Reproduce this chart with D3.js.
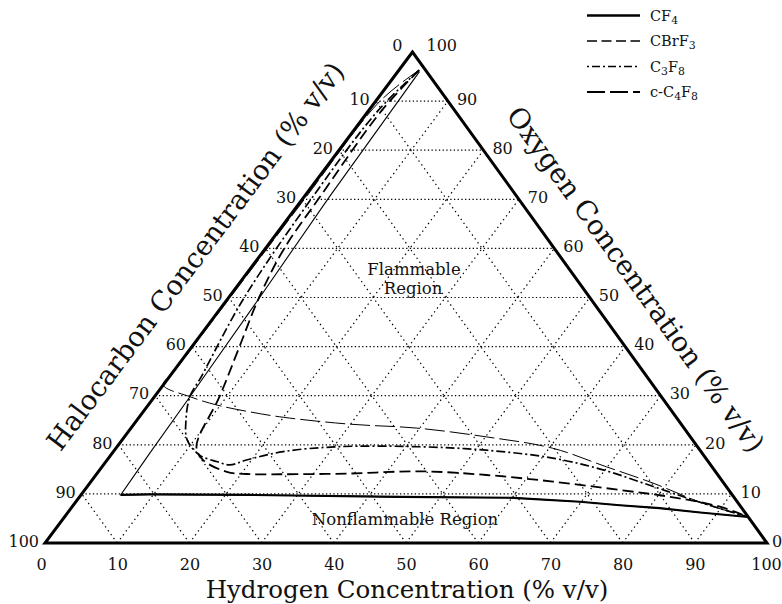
<!DOCTYPE html>
<html lang="en">
<head>
<meta charset="UTF-8">
<title>Hydrogen / oxygen / halocarbon flammability diagram</title>
<script src="https://cdnjs.cloudflare.com/ajax/libs/d3/7.8.5/d3.min.js"></script>
<style>
  body { margin: 0; background: #fff; }
  svg { display: block; font-family: 'DejaVu Serif', serif; }
</style>
</head>
<body>
<svg id="chart" width="782" height="604"></svg>
<script>
// tick values shared by the three sides
const ticks = [0, 10, 20, 30, 40, 50, 60, 70, 80, 90, 100];
const gridLevels = [10, 20, 30, 40, 50, 60, 70, 80, 90];

// flammability boundaries, points as [hydrogen %, oxygen %]; halocarbon = 100 - H - O
const cf4 = [[3.0, 96.0], [3.5, 70.5], [4.3, 49.5], [4.9, 30.0], [5.2, 18.3], [5.5, 9.8],
  [9.5, 9.9], [23.4, 9.8], [44.4, 9.4], [60.2, 9.2], [69.8, 8.4], [75.7, 7.7],
  [81.5, 7.1], [87.6, 6.2], [94.7, 5.3]];
const cbrf3 = [[2.8, 96.3], [1.8, 88.0], [2.2, 70.5], [2.6, 60.0], [4.2, 50.0], [6.7, 39.5],
  [9.0, 29.8], [11.0, 19.6], [13.3, 16.9], [17.8, 14.5], [20.8, 14.05], [25.4, 14.0],
  [35.0, 14.15], [44.5, 14.6], [54.1, 13.85], [64.0, 12.5], [74.1, 10.8], [81.8, 9.4],
  [89.7, 7.4], [94.7, 5.3]];
const c3f8 = [[2.8, 96.3], [1.3, 88.0], [1.2, 70.5], [2.2, 49.5], [4.4, 33.9], [4.9, 29.8],
  [6.8, 25.0], [9.0, 21.0], [12.3, 17.9], [15.3, 16.6], [17.5, 15.9], [19.3, 16.9],
  [23.5, 18.6], [30.4, 19.6], [41.9, 19.6], [51.5, 18.9], [61.5, 17.3], [69.7, 14.9],
  [78.4, 11.5], [87.0, 8.1], [94.7, 5.3]];
const cc4f8 = [[2.8, 96.3], [0.6, 90.0], [0.3, 70.0], [0.2, 50.0], [0.1, 35.0], [0.0, 32.2],
  [4.9, 29.8], [9.5, 28.1], [14.8, 26.7], [20.0, 25.6], [29.9, 24.2], [39.6, 23.4],
  [50.2, 21.6], [60.5, 19.3], [69.9, 15.5], [78.0, 12.2], [87.0, 8.1], [94.7, 5.3]];

const seriesNames = ["CF4", "CBrF3", "C3F8", "c-C4F8"];

const svg = d3.select("#chart");

// triangle corners: apex = 100 % oxygen, lower left = 100 % halocarbon, lower right = 100 % hydrogen
const apex = [412.5, 52], lowLeft = [45, 543], lowRight = [767, 543];

const yO = d3.scaleLinear().domain([0, 100]).range([lowLeft[1], apex[1]]);
const xLeftEdge = d3.scaleLinear().domain([0, 100]).range([lowLeft[0], apex[0]]);
const xRightEdge = d3.scaleLinear().domain([0, 100]).range([lowRight[0], apex[0]]);
const hSpan = d3.scaleLinear().domain([0, 100]).range([0, lowRight[0] - lowLeft[0]]);
const hAxis = d3.scaleLinear().domain([0, 100]).range([lowLeft[0], lowRight[0]]);

const px = (h, o) => xLeftEdge(o) + hSpan(h);
const py = (h, o) => yO(o);

// dotted grid
const grid = svg.append("g").attr("fill", "none").attr("stroke", "#000");
const gridSegs = [];
gridLevels.forEach(v => {
  gridSegs.push({ kind: "h", a: [0, v], b: [100 - v, v] });          // constant oxygen
  gridSegs.push({ kind: "d", a: [v, 0], b: [v, 100 - v] });          // constant hydrogen
  gridSegs.push({ kind: "d", a: [100 - v, 0], b: [0, 100 - v] });    // constant halocarbon
});
grid.selectAll("line").data(gridSegs).join("line")
  .attr("x1", d => px(...d.a)).attr("y1", d => py(...d.a))
  .attr("x2", d => px(...d.b)).attr("y2", d => py(...d.b))
  .attr("stroke-width", 1.2)
  .attr("stroke-dasharray", d => d.kind === "h" ? "1.3,2.4" : "1.4,3.4");

// boundary curves
const smooth = d3.line().x(d => px(d[0], d[1])).y(d => py(d[0], d[1]))
  .curve(d3.curveCatmullRom.alpha(0.5));
const straight = d3.line().x(d => px(d[0], d[1])).y(d => py(d[0], d[1]));

const curves = svg.append("g").attr("fill", "none").attr("stroke", "#000");
curves.append("path").attr("d", straight(cf4)).attr("stroke-width", 1.1);
curves.append("path").attr("d", straight(cf4.slice(5))).attr("stroke-width", 2.1);
curves.append("path").attr("d", smooth(cbrf3)).attr("stroke-width", 1.8).attr("stroke-dasharray", "11,5");
curves.append("path").attr("d", smooth(c3f8)).attr("stroke-width", 1.7).attr("stroke-dasharray", "9,3,2,3");
curves.append("path").attr("d", smooth(cc4f8)).attr("stroke-width", 1).attr("stroke-dasharray", "20,5");

// triangle outline
svg.append("polygon")
  .attr("points", [apex, lowLeft, lowRight].map(p => p.join(",")).join(" "))
  .attr("fill", "none").attr("stroke", "#000").attr("stroke-width", 3)
  .attr("stroke-linejoin", "miter");

// bottom axis: hydrogen
svg.append("g")
  .attr("transform", `translate(0,${lowLeft[1]})`)
  .call(d3.axisBottom(hAxis).tickValues(ticks).tickSize(0).tickPadding(16).tickFormat(d3.format("d")))
  .call(g => g.select(".domain").remove())
  .attr("font-family", "'DejaVu Serif', serif")
  .attr("font-size", 16)
  .call(g => g.selectAll("text").attr("fill", "#111")
    .attr("dx", d => d === 0 ? -4 : d === 100 ? -1 : 0));

// left side: halocarbon (0 at apex, 100 at lower left)
svg.append("g").attr("font-size", 16).attr("fill", "#111").attr("text-anchor", "end")
  .selectAll("text").data(ticks).join("text")
  .attr("x", c => xLeftEdge(100 - c) - (c === 0 ? 10 : 6))
  .attr("y", c => yO(100 - c) - (c === 0 ? 7 : 2))
  .attr("dy", "0.36em")
  .text(c => c);

// right side: oxygen (100 at apex, 0 at lower right)
svg.append("g").attr("font-size", 16).attr("fill", "#111")
  .selectAll("text").data(ticks).join("text")
  .attr("x", o => xRightEdge(o) + (o === 100 ? 14 : o === 0 ? 5 : 9))
  .attr("y", o => yO(o) - (o === 100 ? 7 : 2))
  .attr("dy", "0.36em")
  .text(o => o);

// axis titles
svg.append("text").attr("x", 407).attr("y", 597.5).attr("text-anchor", "middle")
  .attr("font-size", 24.5).attr("fill", "#111")
  .text("Hydrogen Concentration (% v/v)");
svg.append("text").attr("text-anchor", "middle")
  .attr("transform", "translate(203,262) rotate(-53.2)")
  .attr("font-size", 27.5).attr("fill", "#111")
  .text("Halocarbon Concentration (% v/v)");
svg.append("text").attr("text-anchor", "middle")
  .attr("transform", "translate(628,285) rotate(54.2)")
  .attr("font-size", 27.5).attr("fill", "#111")
  .text("Oxygen Concentration (% v/v)");

// region labels
const regions = svg.append("g").attr("font-size", 16.5).attr("fill", "#111").attr("text-anchor", "middle");
regions.append("text").attr("x", 414).attr("y", 275).text("Flammable");
regions.append("text").attr("x", 413).attr("y", 294).text("Region");
regions.append("text").attr("x", 405).attr("y", 525).text("Nonflammable Region");

// legend
const legendStyles = [
  { w: 2.6, dash: null },
  { w: 1.5, dash: "10,4.5" },
  { w: 1.5, dash: "2,3,8,3" },
  { w: 2, dash: "18,5" }
];
const legend = svg.append("g").attr("font-size", 14.5).attr("fill", "#111");
const rows = legend.selectAll("g").data(seriesNames).join("g")
  .attr("transform", (d, i) => `translate(0,${15.5 + i * 25.5})`);
rows.append("line").attr("x1", 587).attr("x2", 640)
  .attr("stroke", "#000")
  .attr("stroke-width", (d, i) => legendStyles[i].w)
  .attr("stroke-dasharray", (d, i) => legendStyles[i].dash);
rows.append("text").attr("x", 650).attr("y", 5).each(function (name) {
  const t = d3.select(this);
  let low = false;
  name.split(/(\d)/).filter(Boolean).forEach(part => {
    const isSub = /^\d$/.test(part);
    const span = t.append("tspan").text(part);
    if (isSub) span.attr("font-size", "0.75em");
    if (isSub !== low) span.attr("dy", isSub ? 3 : -3);
    low = isSub;
  });
});
</script>
</body>
</html>
